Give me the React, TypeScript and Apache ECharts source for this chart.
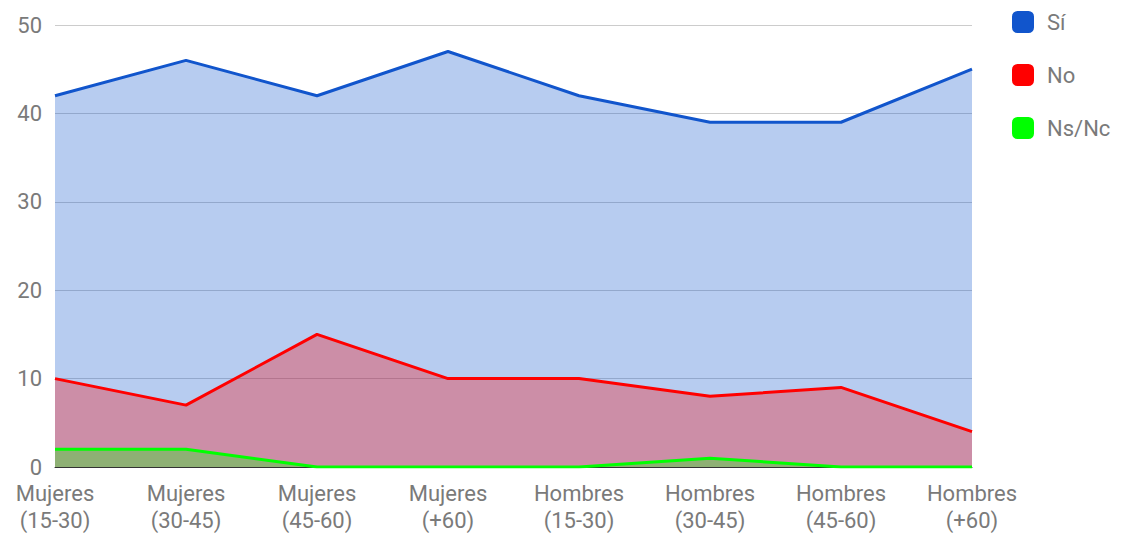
import React, { useEffect, useRef } from "react";
import * as echarts from "echarts";

const categories = [
  "Mujeres\n(15-30)",
  "Mujeres\n(30-45)",
  "Mujeres\n(45-60)",
  "Mujeres\n(+60)",
  "Hombres\n(15-30)",
  "Hombres\n(30-45)",
  "Hombres\n(45-60)",
  "Hombres\n(+60)",
];
const si = [42, 46, 42, 47, 42, 39, 39, 45];
const no = [10, 7, 15, 10, 10, 8, 9, 4];
const nsnc = [2, 2, 0, 0, 0, 1, 0, 0];

const seriesDefs = [
  { name: "Sí", data: si, color: "#1155cc" },
  { name: "No", data: no, color: "#ff0000" },
  { name: "Ns/Nc", data: nsnc, color: "#00ff00" },
];

export default function App() {
  const ref = useRef<HTMLDivElement>(null);
  useEffect(() => {
    if (!ref.current) return;
    const chart = echarts.init(ref.current, null, { renderer: "svg" });
    chart.setOption({
      animation: false,
      textStyle: { fontFamily: "Roboto" },
      grid: { left: 47, right: 149, top: 17, bottom: 68 },
      legend: {
        orient: "vertical",
        left: 1004,
        top: 3,
        padding: 0,
        itemWidth: 22,
        itemHeight: 22,
        itemGap: 31,
        icon: "roundRect",
        textStyle: { color: "#7a7a7a", fontSize: 22, fontFamily: "Roboto", padding: [0, 0, 0, 8] },
        data: seriesDefs.map((s) => ({ name: s.name, itemStyle: { color: s.color } })),
      },
      xAxis: {
        type: "category",
        data: categories,
        boundaryGap: false,
        axisTick: { show: false },
        axisLine: { show: true, lineStyle: { color: "#333333", width: 1 } },
        axisLabel: {
          color: "#7a7a7a",
          fontSize: 22,
          lineHeight: 27,
          margin: 13,
          interval: 0,
        },
      },
      yAxis: {
        type: "value",
        min: 0,
        max: 50,
        interval: 10,
        axisLine: { show: false },
        axisTick: { show: false },
        axisLabel: { color: "#7a7a7a", fontSize: 22, margin: 13 },
        splitLine: { lineStyle: { color: "#cccccc", width: 1 } },
      },
      series: seriesDefs.map((s) => ({
        name: s.name,
        type: "line",
        data: s.data,
        symbol: "none",
        lineStyle: { color: s.color, width: 3 },
        itemStyle: { color: s.color },
        areaStyle: { color: s.color, opacity: 0.3 },
      })),
    });
    return () => chart.dispose();
  }, []);
  return <div ref={ref} style={{ width: 1113, height: 527 }} />;
}
